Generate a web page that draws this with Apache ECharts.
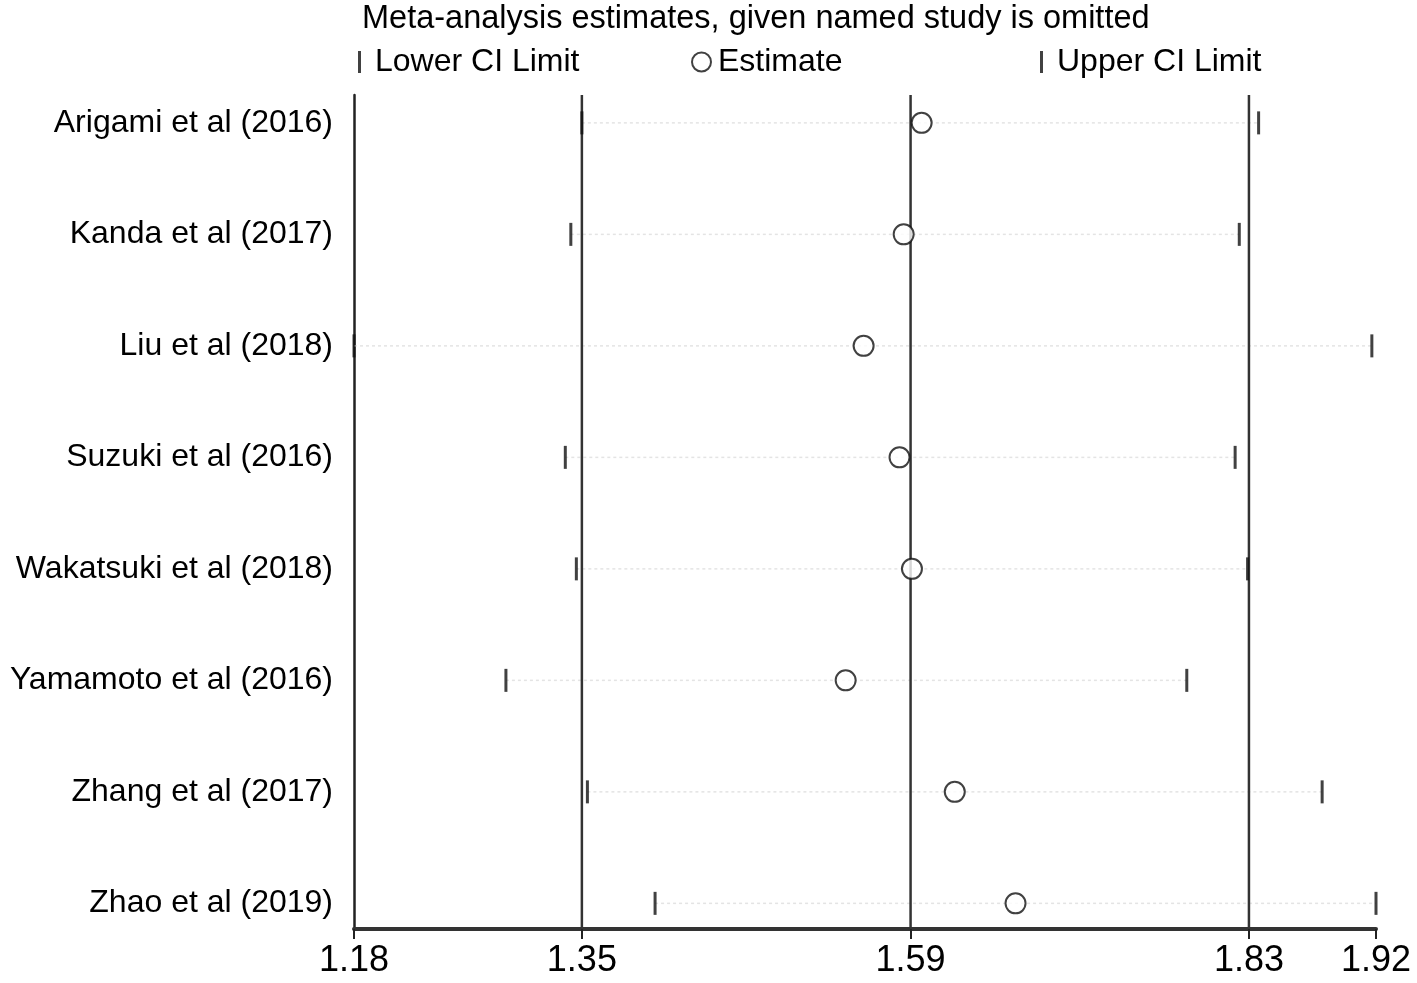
<!DOCTYPE html>
<html><head><meta charset="utf-8">
<script src="https://cdn.jsdelivr.net/npm/echarts@6/dist/echarts.min.js"></script>
<style>html,body{margin:0;padding:0;background:#fff}#c{width:1417px;height:983px}</style>
</head><body><div id="c"></div>
<script>
const studies = ["Arigami et al (2016)","Kanda et al (2017)","Liu et al (2018)","Suzuki et al (2016)","Wakatsuki et al (2018)","Yamamoto et al (2016)","Zhang et al (2017)","Zhao et al (2019)"];
const lowerCI = [1.345,1.337,1.180,1.333,1.341,1.290,1.349,1.398];
const estimate = [1.591,1.578,1.549,1.575,1.584,1.536,1.615,1.659];
const upperCI = [1.835,1.821,1.917,1.818,1.827,1.783,1.881,1.920];
const tickValues = [1.18,1.345,1.583,1.828,1.92];
const tickLabels = ["1.18","1.35","1.59","1.83","1.92"];
const refLines = [1.345,1.583,1.828];
const titleText = "Meta-analysis estimates, given named study is omitted";

const FONT = "Liberation Sans";
const Y_MIN = -0.25, Y_MAX = 7.23;
const chart = echarts.init(document.getElementById('c'));
const idx = studies.map((s,i)=>i);
const tl = (pl)=>({fontFamily:FONT,fontSize:32,lineHeight:32,color:'#000',padding:[0,0,0,pl]});
chart.setOption({
  animation:false,
  backgroundColor:'#fff',
  title:{text:titleText,left:362,top:3,padding:0,textStyle:{fontFamily:FONT,fontSize:32.5,lineHeight:32,fontWeight:'normal',color:'#000'}},
  legend:[
    {data:[{name:'Lower CI Limit'}],left:358,top:46,padding:0,itemWidth:3,itemHeight:22,icon:'rect',textStyle:tl(9),selectedMode:false},
    {data:[{name:'Estimate'}],left:691,top:46,padding:0,itemWidth:19,itemHeight:19,itemStyle:{color:'#111',borderColor:'#111',borderWidth:2.5},textStyle:tl(2),selectedMode:false},
    {data:[{name:'Upper CI Limit'}],left:1040,top:46,padding:0,itemWidth:3,itemHeight:22,icon:'rect',textStyle:tl(9),selectedMode:false}
  ],
  grid:{left:354,right:41,top:95,bottom:54},
  xAxis:{type:'value',min:1.18,max:1.92,
    axisLine:{show:true,onZero:false,lineStyle:{color:'#333',width:4}},
    axisTick:{show:true,customValues:tickValues,length:10,lineStyle:{color:'#222',width:2}},
    axisLabel:{customValues:tickValues,margin:14,fontFamily:FONT,fontSize:36,color:'#000',
      formatter:(v)=>{let k=tickValues.findIndex(t=>Math.abs(t-v)<1e-6);return k>=0?tickLabels[k]:'';}},
    splitLine:{show:false}},
  yAxis:{type:'value',min:Y_MIN,max:Y_MAX,inverse:true,
    axisLine:{show:true,onZero:false,lineStyle:{color:'#222',width:2.5}},
    axisTick:{show:false},
    axisLabel:{customValues:idx,margin:21,fontFamily:FONT,fontSize:32,color:'#000',
      formatter:(v)=>studies[Math.round(v)]||''},
    splitLine:{show:false}},
  series:[
    {type:'custom',name:'ref',silent:true,z:2,
      data:refLines.map(v=>[v]),
      encode:{x:0},
      renderItem:(params,api)=>{
        const a=api.coord([api.value(0),Y_MIN]);
        const b=api.coord([api.value(0),Y_MAX]);
        return {type:'line',shape:{x1:a[0],y1:a[1],x2:b[0],y2:b[1]},style:{stroke:'#333',lineWidth:2.5}};
      }},
    {type:'custom',name:'ci',silent:true,z:1,
      data:idx.map(i=>[lowerCI[i],upperCI[i],i]),
      encode:{x:[0,1],y:2},
      renderItem:(params,api)=>{
        const a=api.coord([api.value(0),api.value(2)]);
        const b=api.coord([api.value(1),api.value(2)]);
        return {type:'line',shape:{x1:a[0],y1:a[1],x2:b[0],y2:b[1]},style:{stroke:'#e4e4e4',lineWidth:1.5,lineDash:[3,3]}};
      }},
    {type:'scatter',name:'Lower CI Limit',z:3,symbol:'rect',symbolSize:[3,23],itemStyle:{color:'#111'},
      data:idx.map(i=>[lowerCI[i],i])},
    {type:'scatter',name:'Estimate',z:4,symbol:'emptyCircle',symbolSize:20,itemStyle:{color:'#111',borderWidth:2.5,borderColor:'#111'},
      data:idx.map(i=>[estimate[i],i])},
    {type:'scatter',name:'Upper CI Limit',z:3,symbol:'rect',symbolSize:[3,23],itemStyle:{color:'#111'},
      data:idx.map(i=>[upperCI[i],i])}
  ]
});
</script></body></html>
